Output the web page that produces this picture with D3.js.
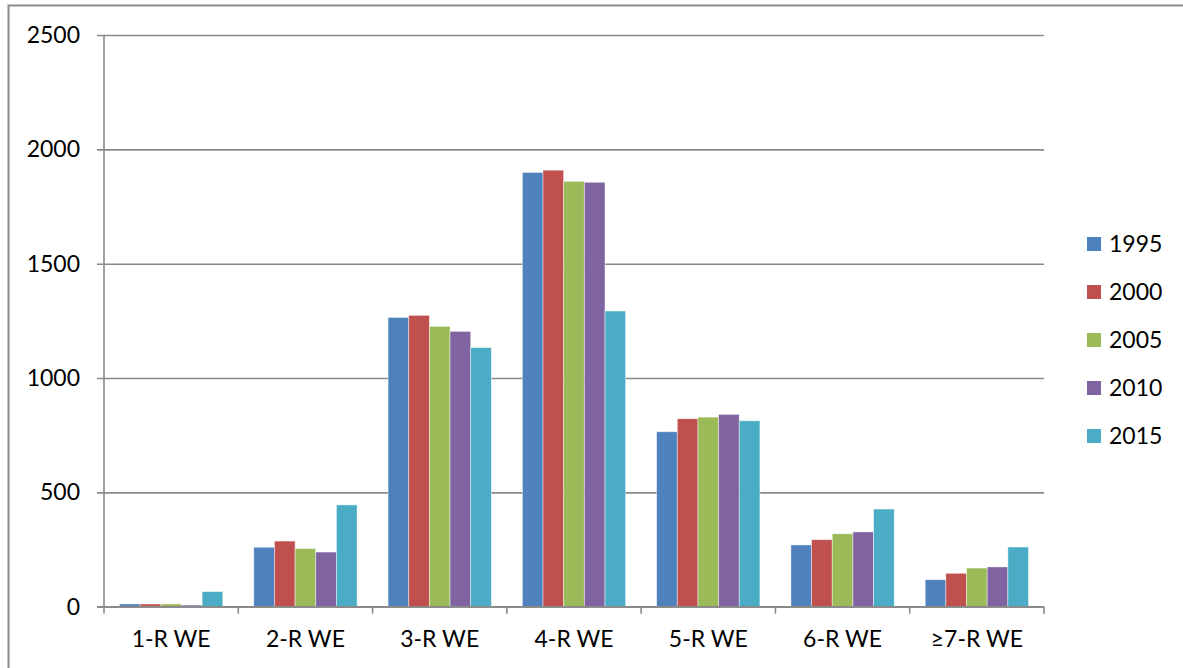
<!DOCTYPE html>
<html>
<head>
<meta charset="utf-8">
<script src="https://cdn.jsdelivr.net/npm/d3@7"></script>
<style>
  html, body { margin: 0; padding: 0; background: #fff; }
  svg { display: block; font-family: Lato, "Open Sans", sans-serif; }
</style>
</head>
<body>
<svg id="chart" width="1183" height="668"></svg>
<script>
// Categories along the x axis
const categories = ["1-R WE", "2-R WE", "3-R WE", "4-R WE", "5-R WE", "6-R WE", "≥7-R WE"];
// Series names (years)
const years = ["1995", "2000", "2005", "2010", "2015"];
// Values per series, one per category
const v1995 = [12, 260, 1265, 1899, 765, 270, 118];
const v2000 = [12, 287, 1274, 1909, 822, 293, 146];
const v2005 = [12, 254, 1226, 1860, 829, 319, 169];
const v2010 = [7, 239, 1204, 1856, 841, 327, 174];
const v2015 = [66, 445, 1133, 1293, 813, 427, 261];
const seriesValues = [v1995, v2000, v2005, v2010, v2015];
// Y axis ticks
const yTicks = [0, 500, 1000, 1500, 2000, 2500];
const colors = ["#4F81BD", "#C0504D", "#9BBB59", "#8064A2", "#4BACC6"];

const svg = d3.select("#chart");
const plotLeft = 104, plotRight = 1044, plotTop = 35, plotBottom = 606.7;
const gridColor = "#8a8a8a";

// Outer chart frame
svg.append("rect")
  .attr("x", 8.5).attr("y", 5.5)
  .attr("width", 1200).attr("height", 700)
  .attr("fill", "none").attr("stroke", "#8c8c8c").attr("stroke-width", 2);

const x = d3.scaleBand().domain(categories).range([plotLeft, plotRight]).paddingInner(0).paddingOuter(0);
const y = d3.scaleLinear().domain([0, 2500]).range([plotBottom, plotTop]);
const gapW = x.bandwidth() * 0.75 / 6.5;
const bandInner = d3.scaleBand().domain(years).range([gapW, x.bandwidth() - gapW]);

// Horizontal gridlines with short ticks on the left
const yAxis = d3.axisLeft(y).tickValues(yTicks).tickSize(-(plotRight - plotLeft)).tickPadding(24).tickFormat(d3.format("d"));
const gy = svg.append("g").attr("transform", `translate(${plotLeft},0)`).call(yAxis);
gy.select(".domain").remove();
gy.selectAll(".tick line").attr("stroke", gridColor).attr("stroke-width", 1.6).attr("x1", -7);
gy.selectAll(".tick text").attr("font-size", 23).attr("fill", "#000").attr("font-family", "Lato, 'Open Sans', sans-serif");

// Vertical axis line
svg.append("line").attr("x1", plotLeft).attr("x2", plotLeft).attr("y1", plotTop).attr("y2", plotBottom)
  .attr("stroke", gridColor).attr("stroke-width", 1.6);

// Bars
const groups = svg.append("g").selectAll("g")
  .data(categories)
  .join("g")
  .attr("transform", d => `translate(${x(d)},0)`);

groups.selectAll("rect")
  .data((c, i) => years.map((yr, s) => ({ yr, s, v: seriesValues[s][i] })))
  .join("rect")
  .attr("x", d => bandInner(d.yr))
  .attr("width", bandInner.bandwidth())
  .attr("y", d => y(d.v))
  .attr("height", d => y(0) - y(d.v))
  .attr("fill", d => colors[d.s])
  .attr("stroke", "rgba(255,255,255,0.55)")
  .attr("stroke-width", 0.8);

// Bottom category axis
const xAxis = d3.axisBottom(x).tickSize(0).tickPadding(24);
const gx = svg.append("g").attr("transform", `translate(0,${plotBottom})`).call(xAxis);
gx.select(".domain").remove();
gx.selectAll(".tick text").attr("font-size", 23).attr("fill", "#000").attr("font-family", "Lato, 'Open Sans', sans-serif");
svg.append("line").attr("x1", plotLeft - 7).attr("x2", plotRight).attr("y1", plotBottom).attr("y2", plotBottom)
  .attr("stroke", gridColor).attr("stroke-width", 1.6);
// Category boundary tick marks
const boundaries = categories.map(c => x(c)).concat([plotRight]);
svg.append("g").selectAll("line").data(boundaries).join("line")
  .attr("x1", d => d).attr("x2", d => d)
  .attr("y1", plotBottom).attr("y2", plotBottom + 7)
  .attr("stroke", gridColor).attr("stroke-width", 1.6);

// Legend
const legend = svg.append("g").selectAll("g").data(years).join("g")
  .attr("transform", (d, i) => `translate(1087,${244 + i * 48})`);
legend.append("rect").attr("x", 0).attr("y", -7).attr("width", 14).attr("height", 14)
  .attr("fill", (d, i) => colors[i]);
legend.append("text").attr("x", 22).attr("y", 0).attr("dy", "0.35em")
  .attr("font-size", 23).attr("fill", "#000").text(d => d);
</script>
</body>
</html>
